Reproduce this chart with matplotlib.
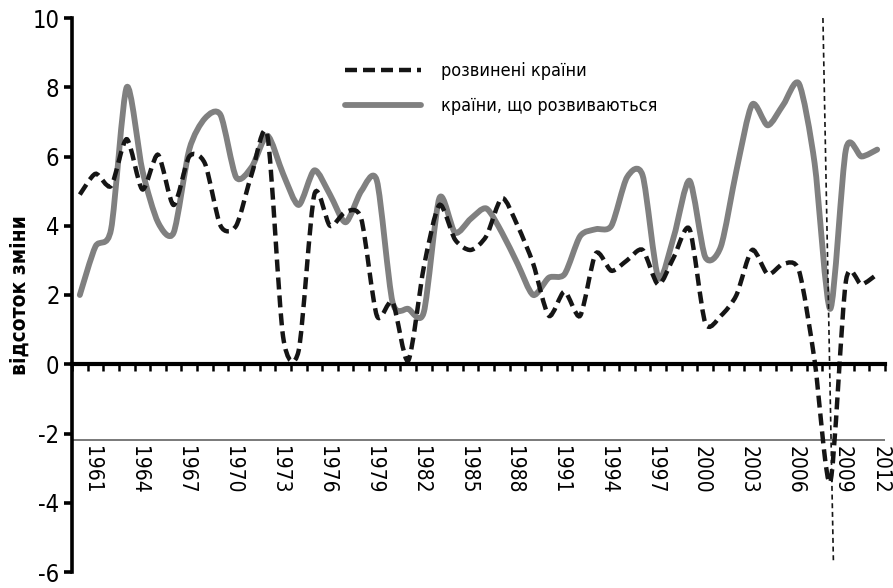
import numpy as np
import matplotlib.pyplot as plt
from matplotlib.path import Path
from matplotlib.patches import PathPatch
from matplotlib.lines import Line2D

years = list(range(1961, 2013))

# розвинені країни (dashed)
developed = [4.9, 5.5, 5.15, 6.5, 5.05, 6.05, 4.6, 6.0, 5.8, 4.0,
             4.0, 5.5, 6.6, 0.8, 0.4, 4.9, 4.0, 4.4, 4.2, 1.4,
             1.8, 0.1, 2.8, 4.6, 3.6, 3.3, 3.7, 4.8, 4.0, 2.9,
             1.4, 2.1, 1.4, 3.2, 2.7, 3.0, 3.3, 2.3, 3.1, 3.9,
             1.2, 1.4, 2.0, 3.3, 2.6, 2.9, 2.7, 0.1, -3.4, 2.4,
             2.3, 2.6]

# країни, що розвиваються (solid grey)
developing = [2.0, 3.4, 3.9, 8.0, 5.6, 4.1, 3.8, 6.2, 7.1, 7.2,
              5.4, 5.7, 6.6, 5.5, 4.6, 5.6, 4.9, 4.1, 5.0, 5.3,
              1.8, 1.6, 1.5, 4.8, 3.8, 4.2, 4.5, 3.8, 2.9, 2.0,
              2.5, 2.6, 3.7, 3.9, 4.0, 5.4, 5.45, 2.5, 3.7, 5.3,
              3.1, 3.4, 5.6, 7.5, 6.9, 7.5, 8.1, 5.8, 1.6, 6.2,
              6.0, 6.2]

year_labels = list(range(1961, 2013, 3))
y_ticks = [-6, -4, -2, 0, 2, 4, 6, 8, 10]

# crisis marker (2008/09)
crisis_x = [2008.53, 2009.2]
crisis_y = [10, -5.7]
base_line = -2.2

plt.rcParams['font.family'] = ['DejaVu Sans']
plt.rcParams['font.stretch'] = 'condensed'
plt.rcParams['axes.unicode_minus'] = False


def smooth_path(x, y, t=0.13):
    # excel-style smoothed line: cubic bezier through every data point
    pts = np.column_stack([x, y]).astype(float)
    n = len(pts)
    verts = [pts[0]]
    codes = [Path.MOVETO]
    for i in range(n - 1):
        p0 = pts[i - 1] if i > 0 else pts[i]
        p1, p2 = pts[i], pts[i + 1]
        p3 = pts[i + 2] if i + 2 < n else pts[i + 1]
        verts += [p1 + (p2 - p0) * t, p2 - (p3 - p1) * t, p2]
        codes += [Path.CURVE4] * 3
    return Path(verts, codes)


fig = plt.figure(figsize=(8.93, 5.88), dpi=100)
ax = fig.add_axes([72 / 893, 16 / 588, 813 / 893, 554 / 588])

ax.set_xlim(1960.5, 2012.5)
ax.set_ylim(-6, 10)

grey_style = dict(color='#808080', lw=4.2, linestyle='-', capstyle='round', joinstyle='round')
dash_style = dict(color='#151515', lw=3.2, linestyle=(0, (2.7, 1.35)))

ax.add_patch(PathPatch(smooth_path(years, developing), fill=False, zorder=3, **grey_style))
ax.add_patch(PathPatch(smooth_path(years, developed), fill=False, zorder=4, **dash_style))
ax.plot(crisis_x, crisis_y, color='#151515', lw=1.2, linestyle=(0, (3, 2.2)),
        clip_on=False, zorder=5)
ax.axhline(base_line, color='#555555', lw=1.1, zorder=2)

for s in ['top', 'right']:
    ax.spines[s].set_visible(False)
ax.spines['left'].set_linewidth(2.6)
ax.spines['bottom'].set_position(('data', 0))
ax.spines['bottom'].set_linewidth(3.0)
ax.spines['bottom'].set_zorder(6)

ax.set_yticks(y_ticks)
ax.tick_params(axis='y', direction='out', length=6, width=2.6, labelsize=17, pad=3)
ax.set_xticks(np.arange(1960.5, 2013, 1))
ax.tick_params(axis='x', direction='out', length=5, width=1.8, labelbottom=False)

for yr in year_labels:
    xpos = min(yr + 0.8, 2012.2)
    ax.text(xpos, -2.35, str(yr), rotation=270, ha='center', va='top', fontsize=15)

fig.text(20 / 893, 1 - 295 / 588, 'відсоток зміни', rotation=90, ha='center',
         va='center', fontsize=15, fontweight='bold')

handles = [Line2D([], [], color='#151515', lw=3.2, linestyle=(0, (2.7, 1.35))),
           Line2D([], [], color='#808080', lw=4.2, solid_capstyle='round')]
labels = ['розвинені країни', 'країни, що розвиваються']
ax.legend(handles, labels, loc='upper left', bbox_to_anchor=(345 / 893, 1 - 62 / 588),
          bbox_transform=fig.transFigure, frameon=False, fontsize=13,
          handlelength=4.2, handletextpad=1.1, labelspacing=0.95,
          borderpad=0, borderaxespad=0)

fig.savefig('out.png', dpi=100, facecolor='white')
